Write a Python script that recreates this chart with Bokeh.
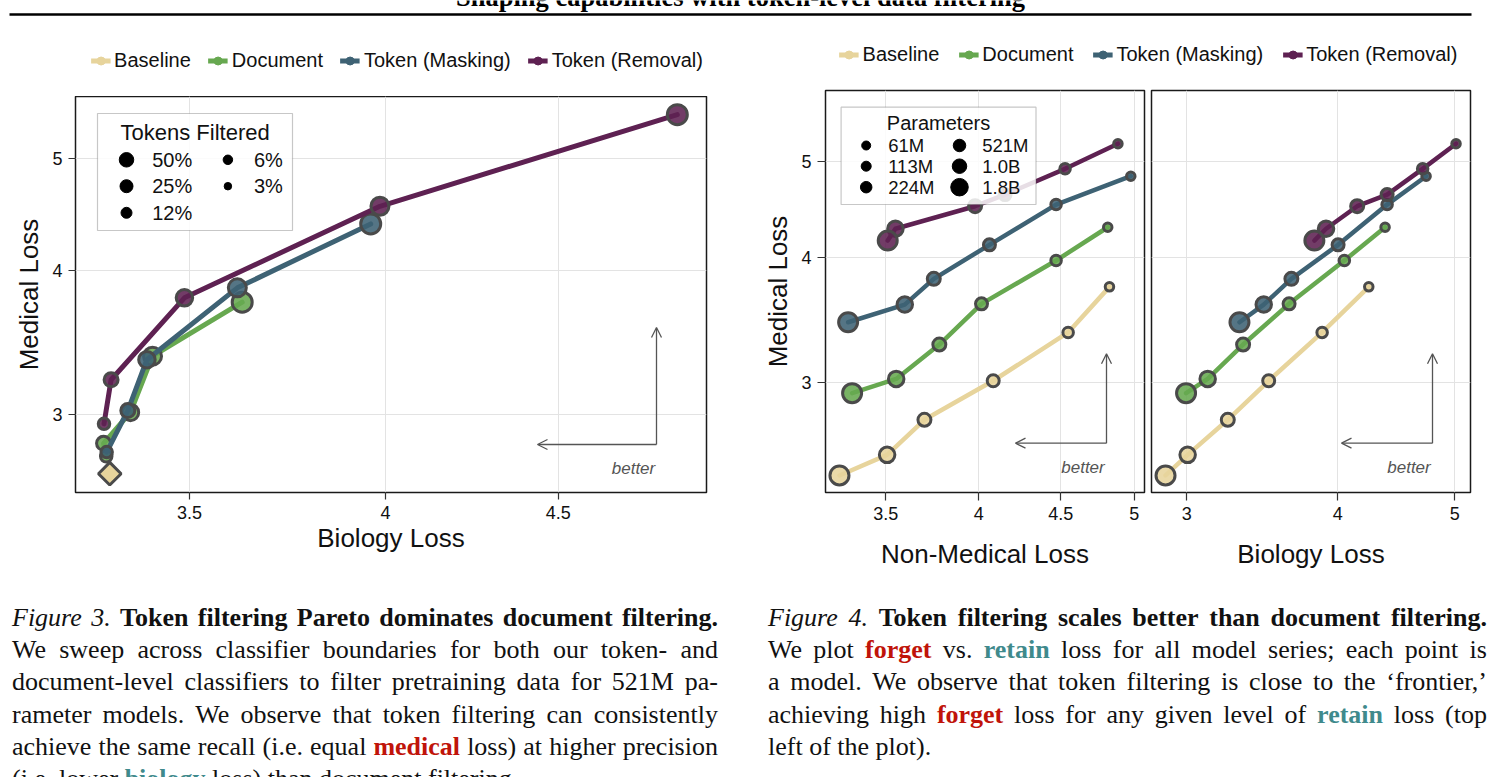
import numpy as np
from bokeh.plotting import figure
from bokeh.layouts import column, row
from bokeh.models import (Range1d, FixedTicker, PrintfTickFormatter, Legend, LegendItem,
                          BoxAnnotation, Label, Arrow, OpenHead, Div, ColumnDataSource, Spacer)
from bokeh.embed import file_html
from bokeh.resources import INLINE

SANS = "Liberation Sans"
SERIF = "Liberation Serif"
INK = "#111111"
EDGE = "#4a4a4a"
RED = "#c0140a"
TEAL = "#3f8a8c"

series_names = ["Baseline", "Document", "Token (Masking)", "Token (Removal)"]
series_colors = ["#e7d49c", "#67a850", "#3e6274", "#5e2152"]

# ---- Figure 3: 521M models, sweep over the share of tokens filtered ----
filtered_labels = ["3%", "6%", "12%", "25%", "50%"]
doc_bio = [3.307, 3.301, 3.362, 3.413, 3.628]
doc_med = [2.761, 2.834, 3.014, 3.372, 3.755]
mask_bio = [3.308, 3.356, 3.400, 3.616, 3.960]
mask_med = [2.785, 3.025, 3.348, 3.864, 4.390]
rem_bio = [3.302, 3.318, 3.488, 3.985, 4.880]
rem_med = [2.946, 3.217, 3.788, 4.547, 5.459]
base521_bio = [3.315]
base521_med = [2.667]

# ---- Figure 4: model series from 61M to 1.8B parameters ----
param_labels = ["61M", "113M", "224M", "521M", "1.0B", "1.8B"]
base_nonmed = [4.826, 4.548, 4.084, 3.700, 3.507, 3.275]
base_bio = [4.244, 3.883, 3.507, 3.244, 3.005, 2.881]
base_med = [3.740, 3.366, 3.010, 2.750, 2.536, 2.418]
doc4_nonmed = [4.814, 4.470, 4.016, 3.780, 3.553, 3.335]
doc4_bio = [4.378, 4.051, 3.646, 3.340, 3.122, 2.996]
doc4_med = [4.293, 3.975, 3.596, 3.273, 3.023, 2.925]
mask4_nonmed = [4.976, 4.470, 4.062, 3.750, 3.597, 3.316]
mask4_bio = [4.734, 4.395, 4.003, 3.662, 3.474, 3.317]
mask4_med = [4.831, 4.524, 4.122, 3.810, 3.590, 3.446]
rem4_nonmed = [4.885, 4.528, 4.154, 3.979, 3.549, 3.510]
rem4_bio = [5.012, 4.703, 4.395, 4.151, 3.912, 3.826]
rem4_med = [5.208, 4.914, 4.630, 4.507, 4.278, 4.163]

# marker diameters (px) per level
FILTER_MARK = [11.5, 14, 16.5, 18, 20]
PARAM_MARK = [8.5, 10.5, 12, 13, 15.5, 19]
FILTER_KEY = [7.5, 9.5, 11, 13, 14.5]
PARAM_KEY = [9, 10, 11.5, 12.5, 14.5, 17.5]


def spot(p, fw, fh, px, py):
    """Data position of a point given in pixels from the frame's top-left corner."""
    x0, x1 = np.log10(p.x_range.start), np.log10(p.x_range.end)
    y0, y1 = np.log10(p.y_range.start), np.log10(p.y_range.end)
    fx, fy = px / fw, 1 - py / fh
    return float(10 ** (x0 + fx * (x1 - x0))), float(10 ** (y0 + fy * (y1 - y0)))


def make_panel(width, height, xr, yr, left, right, top, xticks, yticks, xlabel, ylabel,
               tick_out, xl_standoff, yl_standoff, show_y=True):
    p = figure(width=width, height=height, x_axis_type="log", y_axis_type="log",
               x_range=xr, y_range=yr, output_backend="svg", toolbar_location=None,
               min_border_left=left, min_border_right=right, min_border_top=top,
               min_border_bottom=88)
    p.outline_line_color = "#1a1a1a"
    p.outline_line_width = 1.5
    p.border_fill_color = "white"
    xt = FixedTicker(ticks=xticks, minor_ticks=[])
    yt = FixedTicker(ticks=yticks, minor_ticks=[])
    p.xaxis.ticker = xt
    p.xgrid.ticker = xt
    p.yaxis.ticker = yt
    p.ygrid.ticker = yt
    for g in (p.xgrid, p.ygrid):
        g.grid_line_color = "#e3e3e3"
        g.grid_line_width = 1
    for ax in (p.xaxis, p.yaxis):
        ax.formatter = PrintfTickFormatter(format="%g")
        ax.axis_line_color = None
        ax.major_tick_line_color = "#333333"
        ax.major_tick_line_width = 1.2
        ax.major_tick_in = 0
        ax.major_tick_out = tick_out
        ax.minor_tick_line_color = None
        ax.major_label_text_font = SANS
        ax.major_label_text_font_size = "18px"
        ax.major_label_text_color = INK
        ax.axis_label_text_font = SANS
        ax.axis_label_text_font_size = "26px"
        ax.axis_label_text_font_style = "normal"
        ax.axis_label_text_color = INK
    p.xaxis.major_label_standoff = 6
    p.yaxis.major_label_standoff = 6
    p.xaxis.axis_label = xlabel
    p.xaxis.axis_label_standoff = xl_standoff
    if show_y:
        p.yaxis.axis_label = ylabel
        p.yaxis.axis_label_standoff = yl_standoff
    else:
        p.yaxis.visible = False
    return p


def draw_series(p, xs, ys, sizes, color, lw, elw):
    src = ColumnDataSource(dict(x=xs, y=ys, s=sizes))
    p.line("x", "y", source=src, line_color=color, line_width=lw,
           line_join="round", line_cap="round")
    p.scatter("x", "y", source=src, size="s", fill_color=color, fill_alpha=0.88,
              line_color=EDGE, line_width=elw)


def better_arrow(p, fw, fh, corner, top_y, left_x, text_pos):
    cx, cy = spot(p, fw, fh, *corner)
    tx, ty = spot(p, fw, fh, corner[0], top_y)
    lx, ly = spot(p, fw, fh, left_x, corner[1])
    for ex, ey in ((tx, ty), (lx, ly)):
        p.add_layout(Arrow(end=OpenHead(size=10, line_color="#555555", line_width=1.3),
                           x_start=cx, y_start=cy, x_end=ex, y_end=ey,
                           line_color="#555555", line_width=1.3))
    bx, by = spot(p, fw, fh, *text_pos)
    p.add_layout(Label(x=bx, y=by, text="better", text_font=SANS, text_font_style="italic",
                       text_font_size="17px", text_color="#555555", text_align="center",
                       text_baseline="middle"))


def size_key(p, fw, fh, box, title, title_pos, title_size, labels, sizes,
             dot_cols, label_cols, rows, label_size):
    (l, t), (r, b) = box
    x0, y0 = spot(p, fw, fh, l, t)
    x1, y1 = spot(p, fw, fh, r, b)
    p.add_layout(BoxAnnotation(left=x0, right=x1, top=y0, bottom=y1, fill_color="white",
                               fill_alpha=0.85, line_color="#444444", line_width=1.2))
    tx, ty = spot(p, fw, fh, *title_pos)
    p.add_layout(Label(x=tx, y=ty, text=title, text_font=SANS, text_font_size=title_size,
                       text_color=INK, text_align="center", text_baseline="middle",
                       level="overlay"))
    dx, dy = [], []
    for i, lab in enumerate(labels):
        c, rw = divmod(i, 3)
        px, py = spot(p, fw, fh, dot_cols[c], rows[rw])
        dx.append(px)
        dy.append(py)
        lx, ly = spot(p, fw, fh, label_cols[c], rows[rw])
        p.add_layout(Label(x=lx, y=ly, text=lab, text_font=SANS, text_font_size=label_size,
                           text_color=INK, text_align="left", text_baseline="middle",
                           level="overlay"))
    p.scatter(dx, dy, size=sizes, fill_color="black", line_color="black", level="overlay")


# ---------------- Figure 3 ----------------
FW3, FH3 = 631, 396
p3 = make_panel(760, 484, Range1d(3.2385, 4.978), Range1d(2.569, 5.660), 75, 54, 0,
                [3.5, 4, 4.5], [3, 4, 5], "Biology Loss", "Medical Loss", 7, 1, 5)
draw_series(p3, doc_bio, doc_med, FILTER_MARK, series_colors[1], 5, 3)
draw_series(p3, mask_bio, mask_med, FILTER_MARK, series_colors[2], 5, 3)
draw_series(p3, rem_bio, rem_med, FILTER_MARK, series_colors[3], 5, 3)
p3.scatter(base521_bio, base521_med, marker="square", angle=np.pi / 4, size=16,
           fill_color=series_colors[0], line_color=EDGE, line_width=3)
size_key(p3, FW3, FH3, ((22, 17), (217, 134)), "Tokens Filtered", (119.6, 35.7), "22px",
         filtered_labels[::-1], FILTER_KEY[::-1], (51, 152.4), (76.7, 178.4),
         (63.3, 89.7, 116.3), "20px")
better_arrow(p3, FW3, FH3, (581, 348), 231, 462, (558, 371.7))

# ---------------- Figure 4 ----------------
FW4, FH4 = 319, 402
yr4 = Range1d(2.3245, 5.890)
p4a = make_panel(387, 496, Range1d(3.210, 5.075), yr4, 65, 3, 6, [3.5, 4, 4.5, 5], [3, 4, 5],
                 "Non-Medical Loss", "Medical Loss", 8, 16, 5)
p4b = make_panel(344, 496, Range1d(2.805, 5.152), yr4, 4, 21, 6, [3, 4, 5], [3, 4, 5],
                 "Biology Loss", "Medical Loss", 8, 16, 5, show_y=False)

for p, xs_list in ((p4a, [base_nonmed, doc4_nonmed, mask4_nonmed, rem4_nonmed]),
                   (p4b, [base_bio, doc4_bio, mask4_bio, rem4_bio])):
    for xs, ys, color in zip(xs_list, [base_med, doc4_med, mask4_med, rem4_med], series_colors):
        draw_series(p, xs, ys, PARAM_MARK, color, 4.5, 3)
    better_arrow(p, FW4, FH4, (281, 352.7), 263.3, 190, (257.5, 376.7))

size_key(p4a, FW4, FH4, ((15.6, 16.7), (210.5, 114)), "Parameters", (113, 32.7), "20px",
         param_labels, PARAM_KEY, (40.7, 134), (62.7, 156.7), (55, 75.7, 96.7), "18.5px")


# ---------------- series legends ----------------
def series_legend(width, height, left, spacing):
    s = figure(width=width, height=height, x_range=Range1d(0, 1), y_range=Range1d(0, 1),
               x_axis_type=None, y_axis_type=None, output_backend="svg",
               toolbar_location=None, min_border_left=left, min_border_right=0,
               min_border_top=0, min_border_bottom=0, outline_line_color=None)
    items = []
    for name, color in zip(series_names, series_colors):
        # keys only: the glyphs sit off-canvas, the legend draws their swatches
        lr = s.line(x=[-5, -4], y=[-5, -5], line_color=color, line_width=5)
        sr = s.scatter(x=[-5], y=[-5], size=8, fill_color=color, line_color=color)
        items.append(LegendItem(label=name, renderers=[lr, sr]))
    s.add_layout(Legend(items=items, orientation="horizontal", location="center",
                        label_text_font=SANS, label_text_font_size="20px",
                        label_text_color=INK, glyph_width=20, glyph_height=20,
                        label_height=20, label_standoff=4, spacing=spacing, padding=0,
                        margin=0, border_line_color=None, background_fill_alpha=0),
                 "center")
    return s


strip3 = row(Spacer(width=33, height=72), series_legend(727, 72, 0, 17))
strip4 = series_legend(731, 60, 45, 19)

# ---------------- running header ----------------
head = figure(width=1491, height=24, x_range=Range1d(0, 1491), y_range=Range1d(24, 0),
              x_axis_type=None, y_axis_type=None, output_backend="svg",
              toolbar_location=None, min_border=0, outline_line_color=None)
head.add_layout(Label(x=740, y=-3.5, text="Shaping capabilities with token-level data filtering",
                      text_font=SERIF, text_font_style="bold", text_font_size="26.5px",
                      text_align="center", text_baseline="alphabetic", text_color="#000000"))
head.add_layout(BoxAnnotation(left=9, right=1471, top=12.7, bottom=15.3, fill_color="black",
                              fill_alpha=1, line_color=None))

# ---------------- captions ----------------
STY = {"": "", "i": "font-style:italic;", "b": "font-weight:bold;",
       "red": f"font-weight:bold;color:{RED};", "teal": f"font-weight:bold;color:{TEAL};"}


def caption_line(segments, width, justify):
    spans = []
    for text, kind in segments:
        for w in text.split():
            spans.append(f'<span style="{STY[kind]}">{w}</span>')
    if justify:
        return (f'<div style="display:flex;justify-content:space-between;align-items:baseline;'
                f'width:{width}px;height:32.4px;">' + "".join(spans) + "</div>")
    return f'<div style="width:{width}px;height:32.4px;">' + " ".join(spans) + "</div>"


def caption(lines, width, pad_left, line_w):
    body = "".join(caption_line(seg, line_w, i < len(lines) - 1) for i, seg in enumerate(lines))
    html = (f'<div style="padding:21.5px 0 0 {pad_left}px;font-family:\'{SERIF}\';'
            f'font-size:26px;line-height:32.4px;color:{INK};">{body}</div>')
    return Div(text=html, width=width, height=197, margin=0, styles={"overflow": "hidden"})


cap3_lines = [
    [("Figure 3.", "i"), ("Token filtering Pareto dominates document filtering.", "b")],
    [("We sweep across classifier boundaries for both our token- and", "")],
    [("document-level classifiers to filter pretraining data for 521M pa-", "")],
    [("rameter models. We observe that token filtering can consistently", "")],
    [("achieve the same recall (i.e. equal", ""), ("medical", "red"),
     ("loss) at higher precision", "")],
    [("(i.e. lower", ""), ("biology", "teal"), ("loss) than document filtering.", "")],
]
cap4_lines = [
    [("Figure 4.", "i"), ("Token filtering scales better than document filtering.", "b")],
    [("We plot", ""), ("forget", "red"), ("vs.", ""), ("retain", "teal"),
     ("loss for all model series; each point is", "")],
    [("a model. We observe that token filtering is close to the \u2018frontier,\u2019", "")],
    [("achieving high", ""), ("forget", "red"), ("loss for any given level of", ""),
     ("retain", "teal"), ("loss (top", "")],
    [("left of the plot).", "")],
]
cap3 = caption(cap3_lines, 760, 12, 706)
cap4 = caption(cap4_lines, 731, 8, 719)

left_block = column(strip3, p3)
right_block = column(strip4, row(p4a, p4b))
root = column(head, row(left_block, right_block), row(cap3, cap4))

with open("out.html", "w") as f:
    f.write(file_html(root, INLINE))
